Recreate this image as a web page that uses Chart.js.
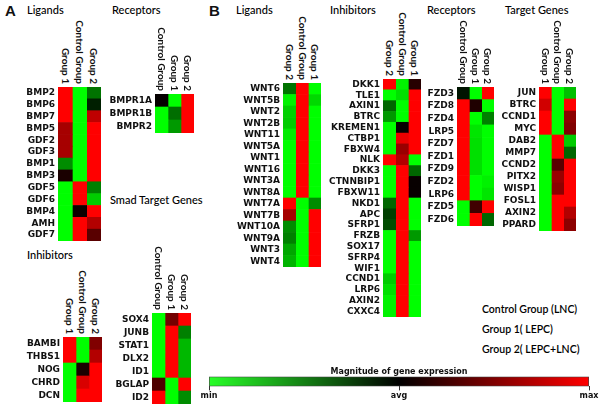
<!DOCTYPE html>
<html lang="en">
<head>
<meta charset="UTF-8">
<title>Gene expression heatmaps</title>
<script src="https://cdn.jsdelivr.net/npm/chart.js@4.4.0/dist/chart.umd.min.js"></script>
<style>
    * { margin: 0; padding: 0; box-sizing: border-box; }
    body {
        width: 600px;
        height: 410px;
        position: relative;
        overflow: hidden;
        background: #fff;
        font-family: Lato, "Open Sans", sans-serif;
        color: #111;
    }
    canvas { position: absolute; }
    .title {
        position: absolute;
        font-size: 11px;
        font-weight: 500;
        line-height: 14px;
        white-space: nowrap;
        color: #000;
    }
    .panel {
        position: absolute;
        font-family: "Liberation Sans", Arial, sans-serif;
        font-weight: bold;
        font-size: 15px;
        line-height: 18px;
    }
    .col {
        position: absolute;
        writing-mode: vertical-rl;
        font-weight: bold;
        font-size: 10px;
        line-height: 11px;
        white-space: nowrap;
        transform: translateY(-100%);
    }
    .legend {
        position: absolute;
        font-size: 10.5px;
        font-weight: 600;
        line-height: 14px;
        white-space: nowrap;
        color: #000;
    }
</style>
</head>
<body>

<div class="panel" style="left:5px; top:2px;">A</div>
<div class="title" style="left:27px; top:3px;">Ligands</div>
<div class="title" style="left:112px; top:3px;">Receptors</div>
<div class="title" style="left:110px; top:193px;">Smad Target Genes</div>
<div class="title" style="left:27px; top:248px;">Inhibitors</div>

<div class="panel" style="left:209px; top:2px;">B</div>
<div class="title" style="left:236px; top:3px;">Ligands</div>
<div class="title" style="left:330px; top:3px;">Inhibitors</div>
<div class="title" style="left:427px; top:3px;">Receptors</div>
<div class="title" style="left:505px; top:3px;">Target Genes</div>

<div class="legend" style="left:482px; top:302px;">Control Group (LNC)</div>
<div class="legend" style="left:482px; top:322px;">Group 1( LEPC)</div>
<div class="legend" style="left:482px; top:342px;">Group 2( LEPC+LNC)</div>

<canvas id="colorbar"></canvas>

<script>
// ---- data: values from -1 (min, green) through 0 (avg, black) to 1 (max, red) ----
const COL_CTRL = 'Control Group';
const COL_G1 = 'Group 1';
const COL_G2 = 'Group 2';

// A - Ligands
const aLigGenes = ['BMP2', 'BMP6', 'BMP7', 'BMP5', 'GDF2', 'GDF3', 'BMP1', 'BMP3', 'GDF5', 'GDF6', 'BMP4', 'AMH', 'GDF7'];
const aLigGroup1 = [1, 1, 1, 0.65, 0.65, 0.65, -0.55, 0.1, -1, -1, -1, -1, -1];
const aLigControl = [-1, -1, -1, -1, -1, -1, -1, -1, 1, 1, 0.05, 1, 1];
const aLigGroup2 = [-0.45, -0.12, 0.75, 1, 1, 1, 1, 1, -0.5, -0.8, 1, 0.7, 0.35];

// A - Receptors
const aRecGenes = ['BMPR1A', 'BMPR1B', 'BMPR2'];
const aRecControl = [0.02, -1, -1];
const aRecGroup1 = [-1, -0.43, -0.6];
const aRecGroup2 = [1, 1, 1];

// A - Inhibitors
const aInhGenes = ['BAMBI', 'THBS1', 'NOG', 'CHRD', 'DCN'];
const aInhGroup1 = [1, 1, -1, -1, -1];
const aInhControl = [-1, -1, 0.1, 0.85, 1];
const aInhGroup2 = [0.5, 0.7, 1, 1, 1];

// A - Smad target genes
const aSmadGenes = ['SOX4', 'JUNB', 'STAT1', 'DLX2', 'ID1', 'BGLAP', 'ID2'];
const aSmadControl = [-1, -1, -1, -1, -1, 0.3, 1];
const aSmadGroup1 = [0.45, 1, 1, 1, 1, -1, -1];
const aSmadGroup2 = [1, -0.5, -0.72, -0.72, -0.72, 1, -0.55];

// B - Ligands
const bLigGenes = ['WNT6', 'WNT5B', 'WNT2', 'WNT2B', 'WNT11', 'WNT5A', 'WNT1', 'WNT16', 'WNT3A', 'WNT8A', 'WNT7A', 'WNT7B', 'WNT10A', 'WNT9A', 'WNT3', 'WNT4'];
const bLigGroup2 = [-0.45, -0.95, -0.82, -0.8, -0.92, -1, -1, -1, -1, -1, 1, 0.65, -0.55, -0.5, -0.65, -0.7];
const bLigControl = [1, 1, 1, 1, 1, 1, 1, 1, 1, 1, -1, -1, -1, -1, -1, -1];
const bLigGroup1 = [-1, -0.85, -1, -1, -1, -1, -1, -1, -1, -1, -0.55, 1, 1, 1, 1, 1];

// B - Inhibitors
const bInhGenes = ['DKK1', 'TLE1', 'AXIN1', 'BTRC', 'KREMEN1', 'CTBP1', 'FBXW4', 'NLK', 'DKK3', 'CTNNBIP1', 'FBXW11', 'NKD1', 'APC', 'SFRP1', 'FRZB', 'SOX17', 'SFRP4', 'WIF1', 'CCND1', 'LRP6', 'AXIN2', 'CXXC4'];
const bInhGroup2 = [1, -1, -0.4, -0.6, -1, -1, -1, 1, -1, -1, -1, -0.4, -0.25, -0.3, -1, -1, -1, -1, -0.8, -0.88, -0.95, -0.95];
const bInhControl = [-0.95, -0.88, -1, -1, 0.02, 0.92, 0.6, 0.7, 1, 1, 1, 1, 1, 1, 1, 1, 1, 1, 1, 1, 1, 1];
const bInhGroup1 = [0.15, 1, 1, 1, 1, 1, 1, -1, -0.4, 0.03, 0.03, -1, -1, -1, -0.6, -1, -1, -1, -1, -1, -1, -1];

// B - Receptors
const bRecGenes = ['FZD3', 'FZD8', 'FZD4', 'LRP5', 'FZD7', 'FZD1', 'FZD9', 'FZD2', 'LRP6', 'FZD5', 'FZD6'];
const bRecControl = [-0.08, 1, 1, 1, 1, 1, 1, 1, 1, -1, -1];
const bRecGroup1 = [-1, 0.12, -1, -0.9, -0.88, -0.88, -0.88, -1, -1, 0.25, 1];
const bRecGroup2 = [1, -1, -0.5, -1, -1, -1, -1, -0.95, -0.9, 1, -0.4];

// B - Target genes
const bTgtGenes = ['JUN', 'BTRC', 'CCND1', 'MYC', 'DAB2', 'MMP7', 'CCND2', 'PITX2', 'WISP1', 'FOSL1', 'AXIN2', 'PPARD'];
const bTgtGroup1 = [1, 0.82, 1, 1, -1, -1, -1, -1, -1, -1, -1, -1];
const bTgtControl = [-1, -1, -1, -1, 1, 1, 0.35, 0.6, 0.55, 1, 1, 1];
const bTgtGroup2 = [-0.75, 1, 0.55, 0.5, -0.8, -0.4, 1, 1, 1, 1, 0.7, 0.55];

// colour bar ticks
const barTicks = ['min', 'avg', 'max'];

// ---- drawing ----
const LABEL_W = 62;
const GENE_FONT = { family: '"DejaVu Sans", Verdana, sans-serif', size: 9, weight: 'bold' };

function heatColor(v) {
    if (v < 0) return `rgb(0, ${Math.round(-v * 255)}, 0)`;
    return `rgb(${Math.round(v * 255)}, 0, 0)`;
}

function heatmap(box, genes, cols, values) {
    const canvas = document.createElement('canvas');
    canvas.width = LABEL_W + box.w;
    canvas.height = box.h;
    canvas.style.left = (box.x - LABEL_W) + 'px';
    canvas.style.top = box.y + 'px';
    document.body.appendChild(canvas);

    new Chart(canvas, {
        type: 'bar',
        data: {
            labels: genes,
            datasets: values.map((vals, c) => ({
                label: cols[c],
                data: vals.map(() => 1),
                backgroundColor: vals.map(heatColor),
                borderWidth: 0,
                barPercentage: 1,
                categoryPercentage: 1
            }))
        },
        options: {
            indexAxis: 'y',
            responsive: false,
            animation: false,
            layout: { padding: 0 },
            plugins: { legend: { display: false }, tooltip: { enabled: false } },
            scales: {
                x: { stacked: true, min: 0, max: cols.length, display: false },
                y: {
                    stacked: true,
                    grid: { display: false, drawTicks: false },
                    border: { display: false },
                    ticks: { font: GENE_FONT, color: '#111', padding: 3, autoSkip: false },
                    afterFit: s => {
                        s.width = LABEL_W;
                        s.paddingTop = 0;
                        s.paddingBottom = 0;
                    }
                }
            }
        }
    });

    // rotated column headers
    const cw = box.w / cols.length;
    cols.forEach((name, c) => {
        const d = document.createElement('div');
        d.className = 'col';
        d.textContent = name;
        d.style.left = (box.x + (c + 0.5) * cw - 5.5) + 'px';
        d.style.top = (box.y - 3) + 'px';
        document.body.appendChild(d);
    });
}

heatmap({ x: 58, y: 87, w: 43, h: 154 }, aLigGenes, [COL_G1, COL_CTRL, COL_G2], [aLigGroup1, aLigControl, aLigGroup2]);
heatmap({ x: 155, y: 94, w: 39, h: 39 }, aRecGenes, [COL_CTRL, COL_G1, COL_G2], [aRecControl, aRecGroup1, aRecGroup2]);
heatmap({ x: 63, y: 337, w: 39, h: 65 }, aInhGenes, [COL_G1, COL_CTRL, COL_G2], [aInhGroup1, aInhControl, aInhGroup2]);
heatmap({ x: 152, y: 313, w: 39, h: 91 }, aSmadGenes, [COL_CTRL, COL_G1, COL_G2], [aSmadControl, aSmadGroup1, aSmadGroup2]);
heatmap({ x: 283, y: 83, w: 38, h: 184 }, bLigGenes, [COL_G2, COL_CTRL, COL_G1], [bLigGroup2, bLigControl, bLigGroup1]);
heatmap({ x: 383, y: 79, w: 38, h: 238 }, bInhGenes, [COL_G2, COL_CTRL, COL_G1], [bInhGroup2, bInhControl, bInhGroup1]);
heatmap({ x: 457, y: 87, w: 37, h: 139 }, bRecGenes, [COL_CTRL, COL_G1, COL_G2], [bRecControl, bRecGroup1, bRecGroup2]);
heatmap({ x: 539, y: 87, w: 37, h: 144 }, bTgtGenes, [COL_G1, COL_CTRL, COL_G2], [bTgtGroup1, bTgtControl, bTgtGroup2]);

// colour scale bar
const cb = document.getElementById('colorbar');
cb.width = 404;
cb.height = 37;
cb.style.left = '196px';
cb.style.top = '365px';
new Chart(cb, {
    type: 'bar',
    data: {
        labels: [''],
        datasets: [{
            data: [[-1, 1]],
            backgroundColor: ctx => {
                const area = ctx.chart.chartArea;
                if (!area) return '#000';
                const g = ctx.chart.ctx.createLinearGradient(area.left, 0, area.right, 0);
                g.addColorStop(0, 'rgb(40, 255, 40)');
                g.addColorStop(0.5, heatColor(0));
                g.addColorStop(1, heatColor(1));
                return g;
            },
            borderColor: '#444',
            borderWidth: 1,
            borderSkipped: false,
            barPercentage: 1,
            categoryPercentage: 1
        }]
    },
    options: {
        indexAxis: 'y',
        responsive: false,
        animation: false,
        layout: { padding: { left: 13, right: 11 } },
        plugins: {
            legend: { display: false },
            tooltip: { enabled: false },
            title: {
                display: true,
                text: 'Magnitude of gene expression',
                font: { family: '"DejaVu Sans", sans-serif', size: 8, weight: 'bold' },
                color: '#111',
                padding: { top: 2, bottom: 0 }
            }
        },
        scales: {
            x: {
                min: -1, max: 1,
                grid: { display: true, drawOnChartArea: false, drawTicks: true, tickLength: 4, color: '#333' },
                border: { display: false },
                ticks: {
                    stepSize: 1,
                    padding: 1,
                    color: '#111',
                    font: { family: '"DejaVu Sans", sans-serif', size: 8, weight: 'bold' },
                    callback: v => barTicks[v + 1]
                }
            },
            y: { display: false }
        }
    }
});
</script>
</body>
</html>
